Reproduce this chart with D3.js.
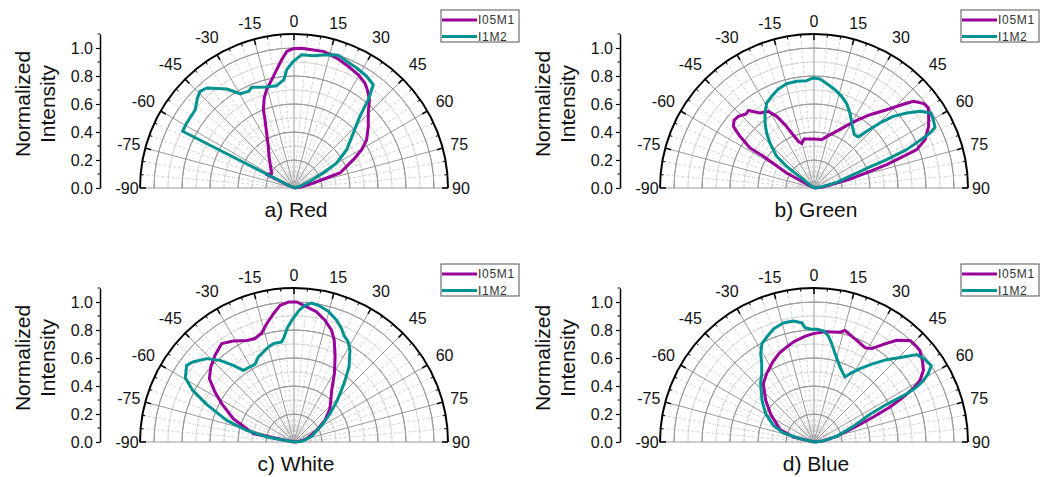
<!DOCTYPE html>
<html>
<head>
<meta charset="utf-8">
<script src="https://cdn.jsdelivr.net/npm/d3@7"></script>
<style>
  html, body { margin: 0; padding: 0; background: #fff; }
  svg { display: block; font-family: Arial, "Liberation Sans", sans-serif; }
</style>
</head>
<body>
<svg id="chart" width="1049" height="477"></svg>
<script>
// Polar axis ticks
const angleTicks = [-90, -75, -60, -45, -30, -15, 0, 15, 30, 45, 60, 75, 90];
const radialTicks = [0, 0.2, 0.4, 0.6, 0.8, 1.0];
const seriesNames = ["I05M1", "I1M2"];
const panelTitles = ["a) Red", "b) Green", "c) White", "d) Blue"];

// Measured profiles: [angle in degrees, normalized intensity]
const redI05M1 = [[-90,0],[-64,0.22],[-57,0.19],[-47,0.23],[-38,0.29],[-31.6,0.35],[-26.4,0.44],[-23,0.53],[-21.4,0.6],[-18.2,0.68],[-15.5,0.73],[-11.6,0.79],[-8.3,0.855],[-5.5,0.92],[-3,0.977],[-0.3,0.995],[3.1,1.0],[7.3,0.996],[12.1,0.998],[18.2,0.977],[24,0.952],[29.6,0.93],[34,0.905],[36.7,0.876],[40.5,0.83],[44.7,0.754],[50.3,0.69],[56.4,0.623],[60.5,0.555],[64.5,0.47],[71.9,0.346],[73,0.244],[75.5,0.143],[82,0.055],[90,0]];
const redI1M2 = [[-90,0],[-63,0.893],[-58.8,0.896],[-51.6,0.9],[-47,0.943],[-44.2,0.963],[-41.1,0.948],[-34.2,0.855],[-29.8,0.776],[-25.3,0.763],[-22.7,0.78],[-15.1,0.747],[-9.6,0.741],[-5.3,0.777],[-3.5,0.847],[-0.3,0.905],[3.3,0.954],[8.3,0.955],[13.8,0.98],[18.4,1.0],[22.6,0.98],[27.6,0.967],[33,0.952],[37.5,0.93],[40.1,0.825],[42.6,0.695],[47.2,0.577],[54,0.465],[59.6,0.353],[63,0.235],[67,0.124],[74,0.044],[90,0]];
const greenI05M1 = [[-90,0],[-61.2,0.223],[-58,0.427],[-58,0.539],[-55.1,0.645],[-52.6,0.725],[-49.8,0.748],[-46.6,0.744],[-42.6,0.718],[-40.3,0.725],[-35.8,0.66],[-30.8,0.637],[-27.5,0.577],[-24.6,0.498],[-22.1,0.424],[-18.6,0.352],[-15.5,0.329],[-11.5,0.357],[-0.8,0.35],[9,0.35],[15.3,0.388],[22.9,0.447],[28.5,0.515],[33,0.582],[37.4,0.659],[42.9,0.763],[46.5,0.864],[48.9,0.942],[52.5,0.99],[55,0.997],[58,0.966],[61.7,0.93],[66.5,0.865],[69.5,0.783],[70.5,0.677],[72.2,0.545],[73.4,0.417],[75.7,0.29],[77.5,0.166],[85,0.055],[90,0]];
const greenI1M2 = [[-90,0],[-51.6,0.249],[-49.7,0.35],[-44.4,0.45],[-40.7,0.519],[-37,0.581],[-33.2,0.64],[-29.1,0.695],[-24.8,0.721],[-19.8,0.752],[-14.7,0.77],[-9.2,0.772],[-3.9,0.768],[-0.3,0.786],[3.2,0.78],[7.9,0.745],[12.1,0.718],[16.8,0.684],[21.2,0.646],[25.6,0.594],[31.9,0.519],[37.1,0.478],[41,0.483],[42.9,0.553],[45.4,0.662],[47.9,0.763],[51,0.852],[54.1,0.935],[57.3,0.991],[60.2,0.982],[63.4,0.967],[64.6,0.917],[65.8,0.83],[67.5,0.716],[68.7,0.557],[69.4,0.427],[71.3,0.297],[76,0.167],[82,0.055],[90,0]];
const whiteI05M1 = [[-90,0],[-78.4,0.296],[-69,0.464],[-62,0.585],[-57.7,0.668],[-53.2,0.755],[-48,0.8],[-42.3,0.838],[-36.3,0.872],[-31,0.842],[-25,0.8],[-20.7,0.789],[-16.5,0.812],[-13,0.867],[-9.1,0.928],[-5.8,0.981],[-2.3,1.0],[1.1,1.0],[5.4,0.969],[9.9,0.943],[14.3,0.897],[18.6,0.842],[21.6,0.781],[25.8,0.674],[30.6,0.567],[36.1,0.457],[47.2,0.35],[55,0.27],[62.8,0.182],[75,0.094],[84,0.04],[90,0]];
const whiteI1M2 = [[-90,0],[-79.6,0.198],[-76.2,0.348],[-72.2,0.505],[-66.7,0.679],[-63,0.812],[-59.4,0.902],[-54.5,0.942],[-51.7,0.922],[-46.3,0.862],[-42.2,0.787],[-38.4,0.698],[-35.3,0.627],[-31.6,0.623],[-26.7,0.621],[-22.8,0.658],[-18.8,0.679],[-15.1,0.703],[-11.9,0.718],[-7,0.72],[-5.4,0.753],[-3.3,0.818],[-0.8,0.874],[2.2,0.941],[4.6,0.979],[7.2,1.0],[10.1,0.992],[14.7,0.965],[19.3,0.921],[22.8,0.878],[25.1,0.841],[28.5,0.813],[31.4,0.767],[36.3,0.664],[40.6,0.549],[46.1,0.429],[51.8,0.327],[58.9,0.231],[72.2,0.133],[85,0.055],[90,0]];
const blueI05M1 = [[-90,0],[-76.4,0.152],[-70,0.258],[-57.4,0.367],[-49.2,0.456],[-41,0.552],[-34.7,0.594],[-27.3,0.643],[-21.3,0.682],[-16.1,0.706],[-10.7,0.734],[-4.9,0.757],[-0.4,0.774],[4.8,0.789],[10,0.798],[13.3,0.805],[15.5,0.828],[18.5,0.809],[22.8,0.788],[28.4,0.766],[31.7,0.784],[35.4,0.856],[39.1,0.936],[43.4,0.999],[46.2,1.0],[49.1,1.0],[53.6,0.964],[56.8,0.934],[59.8,0.876],[61.5,0.813],[63.3,0.714],[65.3,0.598],[67.2,0.46],[70.4,0.298],[76,0.167],[85,0.055],[90,0]];
const blueI1M2 = [[-90,0],[-76.6,0.103],[-73.6,0.228],[-67.7,0.314],[-59.6,0.4],[-51.3,0.476],[-42.4,0.565],[-37.4,0.615],[-33.7,0.673],[-31.1,0.737],[-27.9,0.795],[-23.8,0.825],[-19.4,0.859],[-14.5,0.878],[-9.7,0.877],[-5.9,0.857],[-4.5,0.819],[-2,0.808],[1.9,0.805],[5.1,0.796],[7.7,0.764],[10.2,0.714],[13.4,0.649],[19.1,0.567],[25.5,0.514],[27.8,0.552],[32.1,0.618],[37.1,0.702],[41.4,0.784],[46.4,0.881],[49.6,0.963],[52.9,0.986],[56.9,1.0],[59.1,0.951],[60.8,0.894],[61.8,0.832],[62.5,0.747],[62.6,0.585],[63.7,0.446],[68.3,0.302],[76,0.167],[85,0.055],[90,0]];

const seriesColors = ["#990099", "#009290"];

const panels = [
  { title: panelTitles[0], series: [redI05M1, redI1M2],     ox: 0,   oy: 0 },
  { title: panelTitles[1], series: [greenI05M1, greenI1M2], ox: 520, oy: 0 },
  { title: panelTitles[2], series: [whiteI05M1, whiteI1M2], ox: 0,   oy: 254 },
  { title: panelTitles[3], series: [blueI05M1, blueI1M2],   ox: 520, oy: 254 }
];

const svg = d3.select("#chart");
const rMax = 1.1;
const outerR = 154;
const cx = 294, cy = 188;
const rad = d => d * Math.PI / 180;

const r = d3.scaleLinear().domain([0, rMax]).range([0, outerR]);
const yAxisScale = d3.scaleLinear().domain([0, rMax]).range([cy, cy - outerR]);

const minorRings = d3.range(0.1, 1.01, 0.2);
const minorSpokes = d3.range(-85, 90, 5).filter(a => a % 15 !== 0);
const majorSpokes = angleTicks;

const arcPath = d3.arc().startAngle(rad(-90)).endAngle(rad(90));

panels.forEach(p => {
  const g = svg.append("g").attr("transform", `translate(${p.ox},${p.oy})`);
  const pg = g.append("g").attr("transform", `translate(${cx},${cy})`);

  // minor grid
  pg.selectAll(".minorRing").data(minorRings).join("path")
    .attr("d", v => arcPath.innerRadius(r(v)).outerRadius(r(v))())
    .attr("fill", "none").attr("stroke", "#c8c8c8").attr("stroke-width", 0.8)
    .attr("stroke-dasharray", "3,2");
  pg.selectAll(".minorSpoke").data(minorSpokes).join("line")
    .attr("x1", 0).attr("y1", 0)
    .attr("x2", a => r(rMax) * Math.sin(rad(a)))
    .attr("y2", a => -r(rMax) * Math.cos(rad(a)))
    .attr("stroke", "#c8c8c8").attr("stroke-width", 0.8).attr("stroke-dasharray", "3,2");

  // major grid
  pg.selectAll(".majorRing").data(radialTicks.filter(v => v > 0)).join("path")
    .attr("d", v => arcPath.innerRadius(r(v)).outerRadius(r(v))())
    .attr("fill", "none").attr("stroke", "#9a9a9a").attr("stroke-width", 1);
  pg.selectAll(".majorSpoke").data(majorSpokes).join("line")
    .attr("x1", 0).attr("y1", 0)
    .attr("x2", a => r(rMax) * Math.sin(rad(a)))
    .attr("y2", a => -r(rMax) * Math.cos(rad(a)))
    .attr("stroke", "#9a9a9a").attr("stroke-width", 1);

  // outer angular axis
  pg.append("path")
    .attr("d", arcPath.innerRadius(r(rMax)).outerRadius(r(rMax))())
    .attr("fill", "none").attr("stroke", "#000").attr("stroke-width", 2);
  pg.selectAll(".aTickMinor").data(minorSpokes).join("line")
    .attr("x1", a => r(rMax) * Math.sin(rad(a)))
    .attr("y1", a => -r(rMax) * Math.cos(rad(a)))
    .attr("x2", a => (r(rMax) - 3) * Math.sin(rad(a)))
    .attr("y2", a => -(r(rMax) - 3) * Math.cos(rad(a)))
    .attr("stroke", "#000").attr("stroke-width", 1);
  pg.selectAll(".aTick").data(angleTicks).join("line")
    .attr("x1", a => r(rMax) * Math.sin(rad(a)))
    .attr("y1", a => -r(rMax) * Math.cos(rad(a)))
    .attr("x2", a => (r(rMax) - 6) * Math.sin(rad(a)))
    .attr("y2", a => -(r(rMax) - 6) * Math.cos(rad(a)))
    .attr("stroke", "#000").attr("stroke-width", 1.5);

  pg.selectAll(".aLabel").data(angleTicks).join("text")
    .attr("x", a => (167 + 8 * Math.abs(Math.sin(rad(2 * a)))) * Math.sin(rad(a)))
    .attr("y", a => -(167 + 8 * Math.abs(Math.sin(rad(2 * a)))) * Math.cos(rad(a)))
    .attr("text-anchor", "middle").attr("dy", "0.36em")
    .attr("font-size", 16).attr("fill", "#111")
    .text(a => a);

  // data curves
  const line = d3.lineRadial()
    .angle(d => rad(d[0]))
    .radius(d => r(d[1]))
    .curve(d3.curveLinear);
  p.series.forEach((s, i) => {
    pg.append("path").attr("d", line(s))
      .attr("fill", "none").attr("stroke", seriesColors[i])
      .attr("stroke-width", 3).attr("stroke-linejoin", "round");
  });

  // radial (left) axis
  const yAxis = d3.axisLeft(yAxisScale)
    .tickValues(radialTicks).tickFormat(d3.format(".1f"))
    .tickSize(4).tickSizeOuter(0).tickPadding(3);
  const ya = g.append("g").attr("transform", "translate(100,0)").call(yAxis);
  ya.select(".domain").attr("stroke-width", 1.5);
  ya.selectAll(".tick line").attr("stroke-width", 1.2);
  ya.selectAll("text").attr("font-size", 16).attr("fill", "#111")
    .attr("font-family", 'Arial, "Liberation Sans", sans-serif');
  ya.selectAll(".minorTick").data(d3.range(0.1, 1.15, 0.2)).join("line")
    .attr("class", "minorTick")
    .attr("x1", 0).attr("x2", -2.5)
    .attr("y1", v => yAxisScale(v)).attr("y2", v => yAxisScale(v))
    .attr("stroke", "#000").attr("stroke-width", 1);

  // axis title
  const at = g.append("text")
    .attr("transform", "translate(34,104) rotate(-90)")
    .attr("text-anchor", "middle").attr("font-size", 21).attr("fill", "#111");
  at.append("tspan").attr("x", 0).attr("dy", "-0.2em").text("Normalized");
  at.append("tspan").attr("x", 0).attr("dy", "1.2em").text("Intensity");

  // panel title
  g.append("text").attr("x", 296).attr("y", 217)
    .attr("text-anchor", "middle").attr("font-size", 21).attr("fill", "#111")
    .text(p.title);

  // legend
  const lg = g.append("g").attr("transform", "translate(441,10)");
  lg.append("rect").attr("width", 78).attr("height", 32)
    .attr("fill", "#fff").attr("stroke", "#555").attr("stroke-width", 1);
  seriesNames.forEach((name, i) => {
    const yy = 10 + i * 16.5;
    lg.append("line").attr("x1", 1).attr("x2", 36).attr("y1", yy).attr("y2", yy)
      .attr("stroke", seriesColors[i]).attr("stroke-width", 3);
    lg.append("text").attr("x", 37).attr("y", yy).attr("dy", "0.36em")
      .attr("font-size", 12).attr("letter-spacing", 0.7)
      .attr("fill", "#333").text(name);
  });
});
</script>
</body>
</html>
